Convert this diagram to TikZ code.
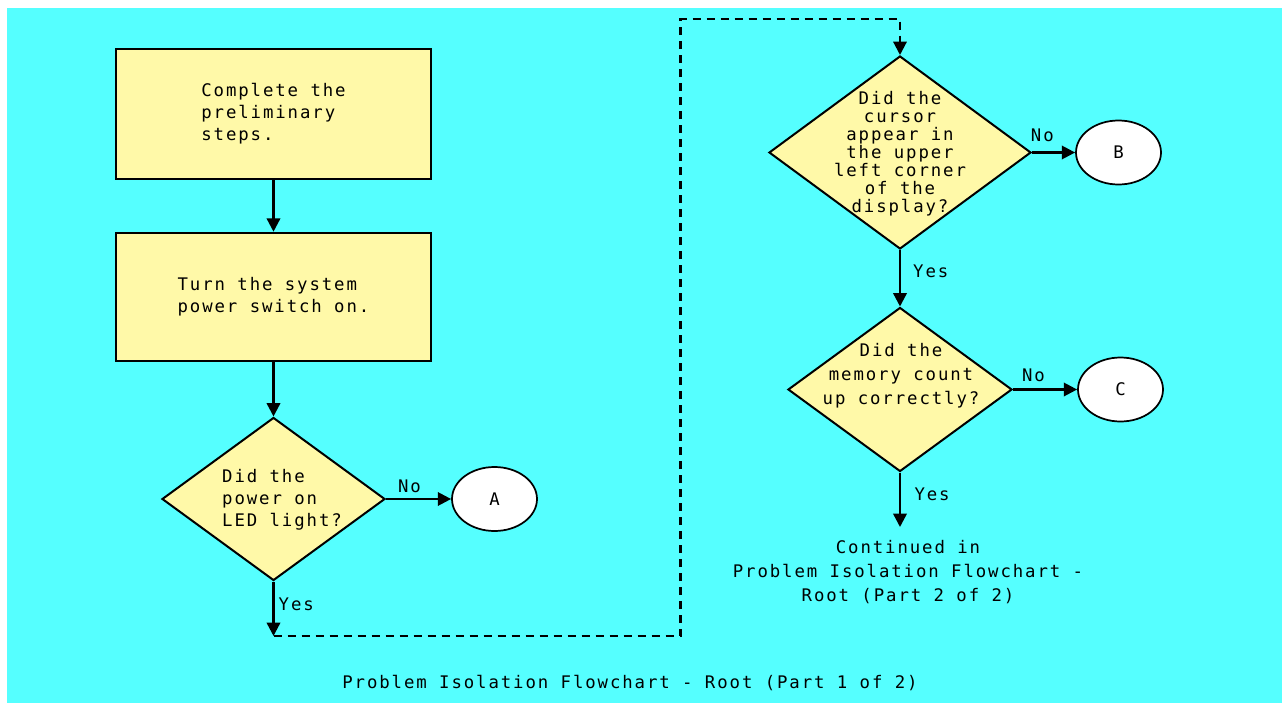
\documentclass[tikz,border=0pt]{standalone}
\usepackage{fontspec}
\newfontfamily\pixfont[LetterSpace=11]{DejaVu Sans Mono}
\usetikzlibrary{arrows.meta,shapes.geometric}
\definecolor{screen}{RGB}{85,255,255}
\definecolor{pad}{RGB}{255,249,168}

\begin{document}
\begin{tikzpicture}[
  x=0.75pt, y=-0.75pt,
  font=\pixfont\fontsize{13}{16.5}\selectfont,
  stepbox/.style={draw, line width=1.9pt, fill=pad, minimum width=236.25pt, align=left, inner sep=0pt},
  ask/.style={draw, diamond, line width=1.5pt, fill=pad, inner sep=0pt, aspect=1.35},
  asktext/.style={inner sep=0pt},
  stop/.style={draw, ellipse, line width=1.3pt, fill=white, minimum width=63.75pt, minimum height=48pt, inner sep=1pt},
  note/.style={align=center, inner sep=0pt},
  lbl/.style={inner sep=2pt},
  flow/.style={-{Triangle[length=10pt, width=10pt]}, line width=1.8pt},
  jump/.style={-{Triangle[length=10pt, width=10pt]}, line width=1.6pt, dash pattern=on 6pt off 4.5pt}
]
\fill[white] (0,0) rectangle (1282,703);
\fill[screen] (7,8) rectangle (1282,703);
\useasboundingbox (0,0) rectangle (1282,703);

\node[stepbox, minimum height=97.5pt] (prep) at (273.5,114) {Complete the\\preliminary\\steps.};
\node[stepbox, minimum height=96pt] (power) at (273.5,297) {Turn the system\\power switch on.};
\node[ask, minimum width=167.25pt, minimum height=122.25pt] (led) at (273.5,499) {};
\node[asktext, align=left] (ledq) at (282,499.5) {Did the\\power on\\LED light?};
\node[stop] (A) at (494.5,499) {A};
\coordinate (turn) at (273.5,636);
\coordinate (top) at (680.5,19);

\node[ask, minimum width=196.5pt, minimum height=144.75pt] (cursor) at (900,152.5) {};
\node[asktext, align=center, font=\pixfont\fontsize{13}{13.5}\selectfont] (cursorq) at (900,154) {Did the\\cursor\\appear in\\the upper\\left corner\\of the\\display?};
\node[stop] (B) at (1118.5,152.5) {B};
\node[ask, minimum width=168pt, minimum height=123pt] (count) at (900,389.5) {};
\node[asktext, align=center, font=\pixfont\fontsize{13}{18}\selectfont] (countq) at (901,376) {Did the\\memory count\\up correctly?};
\node[stop] (C) at (1120.5,389.5) {C};
\coordinate (cont) at (900,527);
\node[note, font=\pixfont\fontsize{13}{18}\selectfont] (next) at (908,572) {Continued in\\Problem Isolation Flowchart -\\Root (Part 2 of 2)};
\node[note] (title) at (630,683) {Problem Isolation Flowchart - Root (Part 1 of 2)};

\draw[flow] (prep) -- (power);
\draw[flow] (power) -- (led);
\draw[flow] (led.east) -- node[lbl, pos=.36, above=2pt] {No} (A);
\draw[flow] (led.south) -- node[lbl, pos=.41, right=1pt] {Yes} (turn);
\draw[jump] (turn) -| (top) -| (cursor.north);
\draw[flow] (cursor.east) -- node[lbl, pos=.24, above=5pt] {No} (B);
\draw[flow] (cursor.south) -- node[lbl, pos=.37, right=7pt] {Yes} (count);
\draw[flow] (count.east) -- node[lbl, pos=.32, above=3pt] {No} (C);
\draw[flow] (count.south) -- node[lbl, pos=.4, right=8pt] {Yes} (cont);
\end{tikzpicture}
\end{document}
